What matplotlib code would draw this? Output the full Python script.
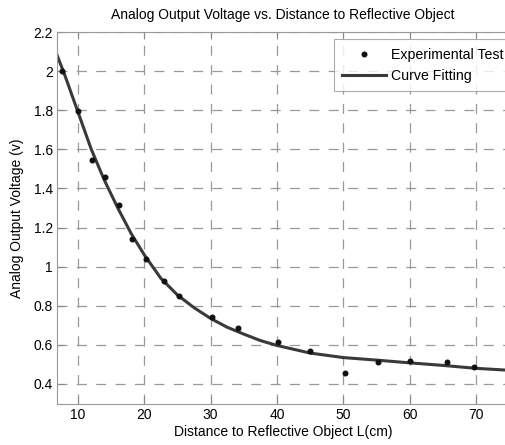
import numpy as np
import matplotlib
matplotlib.use("Agg")
import matplotlib.pyplot as plt

plt.rcParams['font.family'] = ['Liberation Sans', 'DejaVu Sans']

# experimental test points (distance cm, voltage V)
test_dist = [7.6, 10, 12.1, 14, 16.2, 18.1, 20.2, 23, 25.2, 30.2, 34.1, 40.1, 45, 50.3, 55.2, 60.1, 65.7, 69.7]
test_volt = [2.0, 1.795, 1.545, 1.457, 1.315, 1.14, 1.039, 0.928, 0.851, 0.742, 0.688, 0.613, 0.57, 0.458, 0.511, 0.516, 0.512, 0.487]

# fitted curve
fit_dist = [6.8, 8, 10, 12, 14, 16, 18, 20, 22.5, 25, 27.5, 30, 32.5, 35, 37.5, 40, 45, 50, 55, 60, 65, 70, 75]
fit_volt = [2.085, 1.98, 1.79, 1.60, 1.44, 1.30, 1.17, 1.06, 0.94, 0.855, 0.79, 0.735, 0.69, 0.655, 0.622, 0.597, 0.558, 0.535, 0.522, 0.508, 0.495, 0.48, 0.47]

xticks = [10, 20, 30, 40, 50, 60, 70]
yticks = [0.4, 0.6, 0.8, 1.0, 1.2, 1.4, 1.6, 1.8, 2.0, 2.2]
yticklabels = ['0.4', '0.6', '0.8', '1', '1.2', '1.4', '1.6', '1.8', '2', '2.2']

fig = plt.figure(figsize=(5.06, 4.45), dpi=100)
ax = fig.add_axes([57/506, 1-404/445, (509-57)/506, (404-32)/445])

ax.plot(test_dist, test_volt, 'o', color='#111111', ms=3.3, label='Experimental Test', zorder=3)
ax.plot(fit_dist, fit_volt, '-', color='#3a3a3a', lw=2.2, label='Curve Fitting', zorder=2)

ax.set_xlim(6.83, 75)
ax.set_ylim(0.2975, 2.2)
ax.set_xticks(xticks)
ax.set_yticks(yticks)
ax.set_yticklabels(yticklabels)
ax.tick_params(direction='in', length=5, labelsize=10, color='#888888', pad=3, top=True)
ax.grid(True, ls=(0, (8, 7.5)), color='#999999', lw=0.9)
for s in ['left', 'bottom', 'top']:
    ax.spines[s].set_color('#999999')
ax.spines['right'].set_visible(False)

ax.set_title('Analog Output Voltage vs. Distance to Reflective Object', fontsize=10, pad=9)
ax.set_xlabel('Distance to Reflective Object L(cm)', fontsize=10, labelpad=2)
ax.set_ylabel('Analog Output Voltage (v)', fontsize=10, labelpad=7)

leg = ax.legend(loc='upper left', bbox_to_anchor=(334/506, 1-39/445), bbox_transform=fig.transFigure,
                fontsize=10.2, frameon=True, fancybox=False, edgecolor='#999999', borderaxespad=0,
                handlelength=3.1, handletextpad=0.3, borderpad=0.6, labelspacing=0.5)
leg.get_frame().set_linewidth(0.8)

fig.savefig('out.png', dpi=100)
